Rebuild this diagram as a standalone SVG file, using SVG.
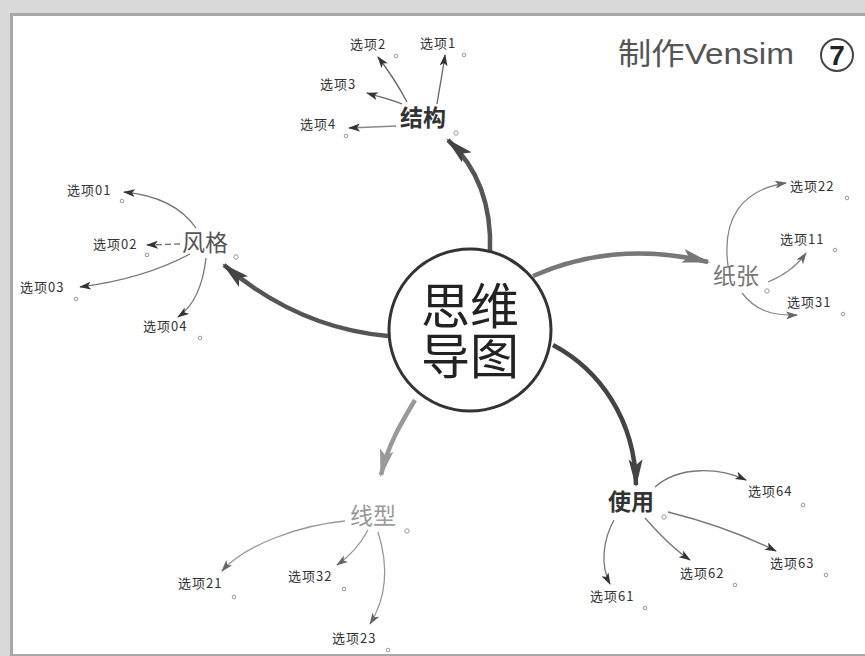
<svg xmlns="http://www.w3.org/2000/svg" width="865" height="656" viewBox="0 0 865 656">
<style>
.lbl{font-family:"Noto Sans CJK SC","Liberation Sans",sans-serif;font-size:13px;fill:#333;letter-spacing:1px}
.node{font-family:"Noto Sans CJK SC",sans-serif;font-size:23px}
.dot{fill:#fff;stroke:#999;stroke-width:1}
.sm{fill:none;stroke-width:1.3}
.main{fill:none;stroke-width:4.5}
</style>
<defs>
<marker id="bigDark" viewBox="0 0 24 12" refX="22" refY="6" markerWidth="28" markerHeight="14" markerUnits="userSpaceOnUse" orient="auto"><path d="M0,0 L24,6 L0,12 L5,6 z" fill="#444"/></marker>
<marker id="bigMid" viewBox="0 0 24 12" refX="22" refY="6" markerWidth="28" markerHeight="14" markerUnits="userSpaceOnUse" orient="auto"><path d="M0,0 L24,6 L0,12 L5,6 z" fill="#777"/></marker>
<marker id="bigLight" viewBox="0 0 24 12" refX="22" refY="6" markerWidth="28" markerHeight="14" markerUnits="userSpaceOnUse" orient="auto"><path d="M0,0 L24,6 L0,12 L5,6 z" fill="#999"/></marker>
<marker id="smDark" viewBox="0 0 12 8" refX="11" refY="4" markerWidth="12" markerHeight="8" markerUnits="userSpaceOnUse" orient="auto"><path d="M0,0 L12,4 L0,8 L3,4 z" fill="#333"/></marker>
<marker id="smMid" viewBox="0 0 12 8" refX="11" refY="4" markerWidth="12" markerHeight="8" markerUnits="userSpaceOnUse" orient="auto"><path d="M0,0 L12,4 L0,8 L3,4 z" fill="#666"/></marker>
</defs>
<rect width="865" height="656" fill="#d9d9d9"/>
<rect x="10" y="13" width="855" height="643" fill="#a8a8a8"/>
<rect x="13" y="16" width="852" height="638" fill="#fff"/>

<g id="connectors">
<path class="main" d="M490,252 C492,200 475,165 448,140" stroke="#555" marker-end="url(#bigDark)"/>
<path class="main" d="M388,336 C320,330 265,300 224,265" stroke="#555" marker-end="url(#bigDark)"/>
<path class="main" d="M533,276 C580,255 640,245 708,262" stroke="#777" marker-end="url(#bigMid)"/>
<path class="main" d="M553,345 C600,370 635,420 636,485" stroke="#444" marker-end="url(#bigDark)"/>
<path class="main" d="M415,400 C400,425 388,445 381,475" stroke="#999" marker-end="url(#bigLight)"/>

<path class="sm" stroke="#666" d="M437,104 C440,85 443,70 445,55" marker-end="url(#smDark)"/>
<path class="sm" stroke="#666" d="M407,102 C398,85 388,70 378,57" marker-end="url(#smDark)"/>
<path class="sm" stroke="#666" d="M402,104 C392,100 380,97 367,93" marker-end="url(#smDark)"/>
<path class="sm" stroke="#888" d="M396,126 L349,128" marker-end="url(#smDark)"/>

<path class="sm" stroke="#777" d="M196,228 C180,205 155,195 124,192" marker-end="url(#smDark)"/>
<path class="sm" stroke="#777" stroke-dasharray="6,3" d="M180,244 L147,245" marker-end="url(#smDark)"/>
<path class="sm" stroke="#777" d="M190,254 C160,270 120,282 80,287" marker-end="url(#smDark)"/>
<path class="sm" stroke="#777" d="M206,258 C203,285 195,305 178,317" marker-end="url(#smDark)"/>

<path class="sm" stroke="#888" d="M728,266 C722,220 740,190 786,183" marker-end="url(#smMid)"/>
<path class="sm" stroke="#888" d="M768,282 C785,275 797,266 806,253" marker-end="url(#smMid)"/>
<path class="sm" stroke="#888" d="M742,293 C755,310 772,316 797,315" marker-end="url(#smMid)"/>

<path class="sm" stroke="#999" d="M345,521 C300,525 245,545 222,571" marker-end="url(#smMid)"/>
<path class="sm" stroke="#999" d="M368,530 C360,545 350,556 337,565" marker-end="url(#smMid)"/>
<path class="sm" stroke="#999" d="M378,532 C390,570 385,600 370,624" marker-end="url(#smMid)"/>

<path class="sm" stroke="#777" d="M655,487 C680,465 720,468 746,480" marker-end="url(#smDark)"/>
<path class="sm" stroke="#777" d="M668,512 C700,520 740,533 776,551" marker-end="url(#smDark)"/>
<path class="sm" stroke="#777" d="M645,518 C660,535 675,550 690,560" marker-end="url(#smDark)"/>
<path class="sm" stroke="#777" d="M614,520 C603,540 600,565 610,584" marker-end="url(#smDark)"/>
</g>

<g id="center">
<circle cx="470" cy="330" r="81" fill="#fff" stroke="#333" stroke-width="3"/>
<text text-anchor="middle" font-family="Noto Sans CJK SC, sans-serif" font-size="49" fill="#222"><tspan x="470" y="324">思维</tspan><tspan x="470" y="374">导图</tspan></text>
</g>

<g id="title">
<text x="618" y="64" textLength="176" lengthAdjust="spacingAndGlyphs" font-family="Liberation Sans, Noto Sans CJK SC, sans-serif" font-size="30" fill="#555">制作Vensim</text>
<circle cx="837" cy="55" r="16" fill="#fff" stroke="#444" stroke-width="2"/>
<text x="837" y="65" text-anchor="middle" font-family="Liberation Sans, sans-serif" font-size="28" font-weight="bold" fill="#222">7</text>
</g>

<g id="node-jiegou">
<text class="node" x="400" y="126" fill="#333" font-weight="bold">结构</text>
<circle class="dot" cx="456" cy="133" r="2.2"/>
</g>
<g id="opt1"><text class="lbl" x="420" y="48">选项1</text><circle class="dot" cx="464" cy="55" r="1.8"/></g>
<g id="opt2"><text class="lbl" x="350" y="49">选项2</text><circle class="dot" cx="396" cy="56" r="1.8"/></g>
<g id="opt3"><text class="lbl" x="320" y="89">选项3</text></g>
<g id="opt4"><text class="lbl" x="300" y="129">选项4</text><circle class="dot" cx="346" cy="136" r="1.8"/></g>

<g id="node-fengge">
<text class="node" x="182" y="251" fill="#555">风格</text>
<circle class="dot" cx="236" cy="257" r="2.2"/>
</g>
<g id="opt01"><text class="lbl" x="67" y="195">选项01</text><circle class="dot" cx="122" cy="201" r="1.8"/></g>
<g id="opt02"><text class="lbl" x="93" y="249">选项02</text><circle class="dot" cx="147" cy="255" r="1.8"/></g>
<g id="opt03"><text class="lbl" x="20" y="292">选项03</text><circle class="dot" cx="76" cy="299" r="1.8"/></g>
<g id="opt04"><text class="lbl" x="143" y="331">选项04</text><circle class="dot" cx="200" cy="338" r="1.8"/></g>

<g id="node-zhizhang">
<text class="node" x="713" y="284" fill="#777">纸张</text>
<circle class="dot" cx="767" cy="291" r="2.2"/>
</g>
<g id="opt22"><text class="lbl" x="790" y="191">选项22</text><circle class="dot" cx="847" cy="198" r="1.8"/></g>
<g id="opt11"><text class="lbl" x="780" y="244">选项11</text><circle class="dot" cx="835" cy="250" r="1.8"/></g>
<g id="opt31"><text class="lbl" x="787" y="307">选项31</text><circle class="dot" cx="843" cy="314" r="1.8"/></g>

<g id="node-xianxing">
<text class="node" x="350" y="524" fill="#999">线型</text>
<circle class="dot" cx="407" cy="531" r="2.2"/>
</g>
<g id="opt21"><text class="lbl" x="178" y="588">选项21</text><circle class="dot" cx="234" cy="597" r="1.8"/></g>
<g id="opt32"><text class="lbl" x="288" y="581">选项32</text><circle class="dot" cx="344" cy="589" r="1.8"/></g>
<g id="opt23"><text class="lbl" x="332" y="643">选项23</text><circle class="dot" cx="388" cy="650" r="1.8"/></g>

<g id="node-shiyong">
<text class="node" x="608" y="510" fill="#333" font-weight="bold">使用</text>
<circle class="dot" cx="664" cy="517" r="2.2"/>
</g>
<g id="opt64"><text class="lbl" x="748" y="496">选项64</text><circle class="dot" cx="803" cy="505" r="1.8"/></g>
<g id="opt63"><text class="lbl" x="770" y="568">选项63</text><circle class="dot" cx="826" cy="575" r="1.8"/></g>
<g id="opt62"><text class="lbl" x="680" y="578">选项62</text><circle class="dot" cx="735" cy="585" r="1.8"/></g>
<g id="opt61"><text class="lbl" x="590" y="601">选项61</text><circle class="dot" cx="645" cy="608" r="1.8"/></g>
</svg>
